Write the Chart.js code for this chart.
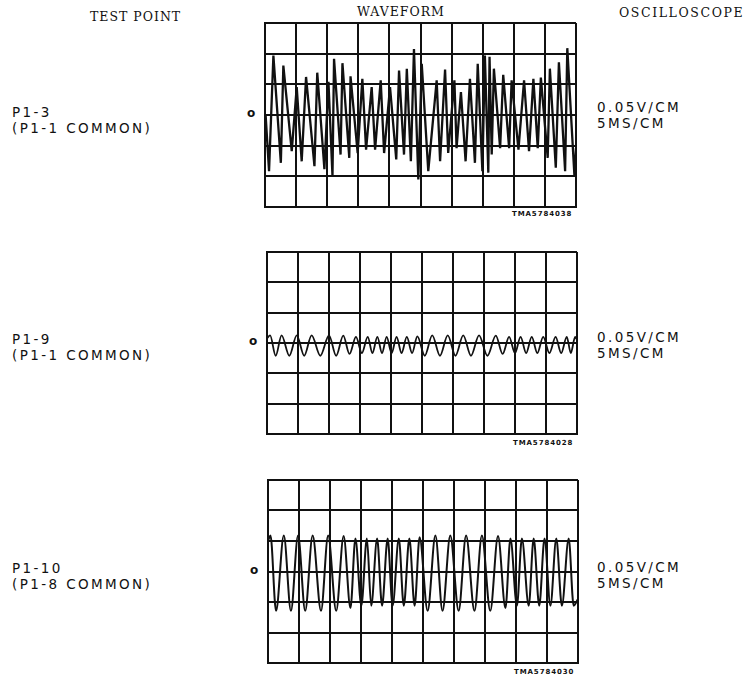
<!DOCTYPE html>
<html>
<head>
<meta charset="utf-8">
<script src="https://cdn.jsdelivr.net/npm/chart.js@4.4.1/dist/chart.umd.min.js"></script>
<style>
    body { margin: 0; background: #fff; }
    #page { position: relative; width: 748px; height: 681px; background: #fff; color: #111; }
    #page canvas { position: absolute; }
    .lbl { position: absolute; white-space: nowrap; font-family: "DejaVu Sans", sans-serif; font-size: 13.5px; letter-spacing: 2.4px; line-height: 16px; }
    .head { position: absolute; white-space: nowrap; font-family: "DejaVu Serif", serif; font-size: 12.5px; letter-spacing: 1px; }
    .zero { position: absolute; font-family: "DejaVu Sans", sans-serif; font-size: 12px; font-weight: bold; }
    .tag { position: absolute; font-family: "DejaVu Sans", sans-serif; font-size: 7px; font-weight: bold; letter-spacing: 0.9px; }
</style>
</head>
<body>
<div id="page">
    <div class="head" style="left:90px; top:9px;">TEST POINT</div>
    <div class="head" style="left:357px; top:4px;">WAVEFORM</div>
    <div class="head" style="left:619px; top:5px; letter-spacing:1.6px;">OSCILLOSCOPE</div>

    <div class="lbl" style="left:12px; top:104px;">P1-3<br>(P1-1 COMMON)</div>
    <div class="lbl" style="left:12px; top:331px;">P1-9<br>(P1-1 COMMON)</div>
    <div class="lbl" style="left:12px; top:560px;">P1-10<br>(P1-8 COMMON)</div>

    <div class="zero" style="left:247px; top:106px;">o</div>
    <div class="zero" style="left:249px; top:334px;">o</div>
    <div class="zero" style="left:250px; top:563px;">o</div>

    <div class="lbl" style="left:597px; top:99px;">0.05V/CM<br>5MS/CM</div>
    <div class="lbl" style="left:597px; top:329px;">0.05V/CM<br>5MS/CM</div>
    <div class="lbl" style="left:597px; top:559px;">0.05V/CM<br>5MS/CM</div>

    <div class="tag" style="left:512px; top:210px;">TMA5784038</div>
    <div class="tag" style="left:513px; top:439px;">TMA5784028</div>
    <div class="tag" style="left:514px; top:668px;">TMA5784030</div>

    <canvas id="scope1"></canvas>
    <canvas id="scope2"></canvas>
    <canvas id="scope3"></canvas>
</div>

<script>
// Screen is 10 x 6 divisions, zero at the centre line
const xDivs = [0, 10];
const yDivs = [-3, 3];

// P1-3: jagged signal, peaks and troughs (divisions)
const p1X = [0.02, 0.13, 0.27, 0.51, 0.59, 0.86, 1.02, 1.18, 1.32, 1.59,
    1.68, 1.91, 2.04, 2.17, 2.22, 2.43, 2.49, 2.71, 2.75, 2.98,
    3.13, 3.25, 3.43, 3.54, 3.72, 3.83, 4.02, 4.22, 4.31, 4.47,
    4.56, 4.69, 4.79, 4.93, 5.04, 5.25, 5.52, 5.63, 5.79, 5.89,
    6.09, 6.16, 6.30, 6.45, 6.59, 6.75, 6.84, 6.99, 7.07, 7.18,
    7.22, 7.29, 7.36, 7.56, 7.66, 7.85, 7.93, 8.15, 8.33, 8.49,
    8.63, 8.77, 8.87, 9.09, 9.16, 9.35, 9.45, 9.65, 9.72, 9.95, 10.0];
const p1Y = [0, -1.83, 1.94, -1.56, 1.61, -1.18, 0.91, -1.51, 1.24, -1.67,
    1.38, -1.77, 1.08, -1.99, 1.83, -1.29, 1.69, -1.40, 1.26, -1.24,
    1.18, -1.13, 0.91, -1.13, 1.13, -1.24, 0.91, -1.45, 1.45, -1.29,
    1.51, -1.51, 2.15, -2.10, 1.67, -1.83, 1.13, -1.51, 1.48, -1.24,
    1.13, -1.08, 0.75, -1.51, 1.18, -1.56, 1.67, -1.83, 1.94, -1.88,
    1.90, -1.29, 1.51, -1.08, 1.31, -1.08, 1.13, -1.13, 1.13, -1.18,
    1.18, -1.08, 1.22, -1.40, 1.51, -1.72, 1.72, -1.83, 2.18, -1.99, -1.08];

// P1-9: small ripple around zero
const p2X = [0, 0.10, 0.28, 0.47, 0.72, 0.96, 1.20, 1.44, 1.72, 2.00,
    2.23, 2.46, 2.66, 2.87, 3.06, 3.25, 3.40, 3.56, 3.71, 3.86,
    4.02, 4.18, 4.34, 4.51, 4.68, 4.85, 5.09, 5.33, 5.58, 5.83,
    6.08, 6.33, 6.58, 6.84, 7.11, 7.38, 7.60, 7.81, 8.00, 8.18,
    8.36, 8.54, 8.72, 8.91, 9.11, 9.31, 9.49, 9.67, 9.80, 9.94, 10.0];
const p2Y = [0.15, 0.25, -0.42, 0.25, -0.42, 0.25, -0.42, 0.25, -0.42, 0.25,
    -0.42, 0.24, -0.36, 0.20, -0.33, 0.20, -0.33, 0.20, -0.33, 0.20,
    -0.33, 0.20, -0.33, 0.20, -0.33, 0.22, -0.42, 0.25, -0.42, 0.25,
    -0.42, 0.25, -0.42, 0.25, -0.42, 0.24, -0.36, 0.20, -0.33, 0.20,
    -0.33, 0.20, -0.33, 0.20, -0.33, 0.20, -0.33, 0.20, -0.33, 0.20, 0.10];

// P1-10: same pattern, larger swing
const p3X = [0, 0.08, 0.26, 0.51, 0.74, 0.97, 1.20, 1.44, 1.71, 1.94,
    2.20, 2.44, 2.66, 2.82, 3.01, 3.19, 3.33, 3.52, 3.68, 3.86,
    4.02, 4.22, 4.38, 4.56, 4.73, 4.89, 5.15, 5.40, 5.63, 5.88,
    6.15, 6.39, 6.66, 6.90, 7.17, 7.42, 7.66, 7.82, 8.03, 8.19,
    8.41, 8.57, 8.75, 8.92, 9.11, 9.30, 9.48, 9.70, 9.86, 10.0];
const p3Y = [1.00, 1.18, -1.29, 1.18, -1.29, 1.18, -1.29, 1.18, -1.29, 1.18,
    -1.29, 1.16, -1.20, 1.08, -1.12, 1.08, -1.12, 1.08, -1.12, 1.08,
    -1.12, 1.08, -1.12, 1.08, -1.12, 1.12, -1.29, 1.18, -1.29, 1.18,
    -1.29, 1.18, -1.29, 1.18, -1.29, 1.16, -1.20, 1.08, -1.12, 1.08,
    -1.12, 1.08, -1.12, 1.08, -1.12, 1.08, -1.12, 1.08, -1.12, -0.90];

const PAD = 4;

function makeScope(id, box, xs, ys, smooth, lineWidth) {
    const canvas = document.getElementById(id);
    canvas.width = box.r - box.l + PAD * 2;
    canvas.height = box.b - box.t + PAD * 2;
    canvas.style.left = (box.l - PAD) + 'px';
    canvas.style.top = (box.t - PAD) + 'px';

    const points = xs.map((x, i) => ({ x: x, y: ys[i] }));
    const gridStyle = { color: '#111', lineWidth: 2, drawTicks: false };

    return new Chart(canvas.getContext('2d'), {
        type: 'line',
        data: {
            datasets: [{
                data: points,
                borderColor: '#111',
                borderWidth: lineWidth,
                pointRadius: 0,
                fill: false,
                tension: smooth ? 0.4 : 0,
                cubicInterpolationMode: smooth ? 'monotone' : 'default'
            }]
        },
        options: {
            responsive: false,
            animation: false,
            layout: { padding: PAD },
            plugins: { legend: { display: false }, tooltip: { enabled: false } },
            scales: {
                x: {
                    type: 'linear', min: xDivs[0], max: xDivs[1],
                    ticks: { display: false, stepSize: 1 },
                    grid: gridStyle,
                    border: { color: '#111', width: 2 }
                },
                y: {
                    type: 'linear', min: yDivs[0], max: yDivs[1],
                    ticks: { display: false, stepSize: 1 },
                    grid: gridStyle,
                    border: { color: '#111', width: 2 }
                }
            }
        }
    });
}

makeScope('scope1', { l: 265, t: 23, r: 576, b: 207 }, p1X, p1Y, false, 2.3);
makeScope('scope2', { l: 267, t: 252, r: 577, b: 434 }, p2X, p2Y, true, 1.8);
makeScope('scope3', { l: 268, t: 480, r: 578, b: 663 }, p3X, p3Y, true, 2);
</script>
</body>
</html>
